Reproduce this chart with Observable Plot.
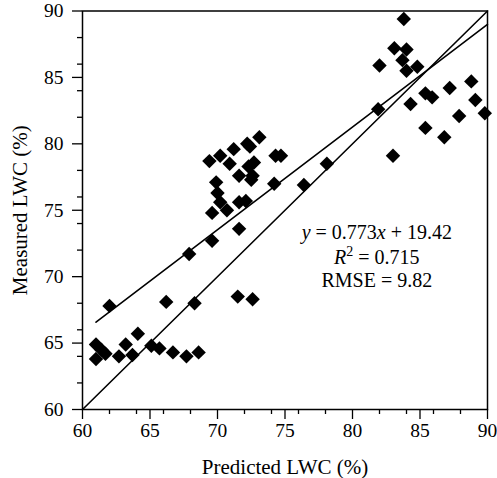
<!DOCTYPE html>
<html>
<head>
<meta charset="utf-8">
<script src="https://cdn.jsdelivr.net/npm/d3@7"></script>
<script src="https://cdn.jsdelivr.net/npm/@observablehq/plot@0.6"></script>
<style>
  html, body { margin: 0; padding: 0; background: #fff; }
</style>
</head>
<body>
<div id="chart"></div>
<script>
// Predicted vs measured LWC (%)
const predicted = [
  61.0, 61.4, 61.0, 61.7, 62.0, 62.7, 63.2, 63.7, 64.1, 65.1,
  65.7, 66.2, 66.7, 67.7, 68.3, 68.6, 67.9, 69.6, 71.6, 71.5,
  72.6, 69.6, 70.7, 70.2, 71.6, 72.1, 70.0, 69.9, 71.6, 72.5,
  72.6, 72.3, 70.9, 72.7, 69.4, 70.2, 71.2, 72.2, 72.4, 73.1,
  74.3, 74.7, 74.2, 76.4, 78.1, 81.9, 82.0, 83.0, 83.1, 83.8,
  84.0, 83.7, 84.0, 84.8, 84.3, 85.4, 85.9, 85.4, 86.8, 87.2,
  87.9, 88.8, 89.1, 89.8
];
const measured = [
  64.9, 64.5, 63.8, 64.2, 67.8, 64.0, 64.9, 64.1, 65.7, 64.8,
  64.6, 68.1, 64.3, 64.0, 68.0, 64.3, 71.7, 72.7, 73.6, 68.5,
  68.3, 74.8, 75.0, 75.6, 75.6, 75.7, 76.3, 77.1, 77.6, 77.3,
  77.6, 78.3, 78.5, 78.6, 78.7, 79.1, 79.6, 80.0, 79.8, 80.5,
  79.1, 79.1, 77.0, 76.9, 78.5, 82.6, 85.9, 79.1, 87.2, 89.4,
  87.1, 86.3, 85.5, 85.8, 83.0, 83.8, 83.5, 81.2, 80.5, 84.2,
  82.1, 84.7, 83.3, 82.3
];

// Fit line coefficients and its x extent
const slope = 0.773;
const intercept = 19.42;
const fitRange = [61, 90];
// 1:1 reference line
const identityRange = [60, 90];

// Axis ticks
const majorTicks = [60, 65, 70, 75, 80, 85, 90];
const minorTicks = [62, 64, 66, 68, 72, 74, 76, 78, 82, 84, 86, 88];

// Annotation text lines and anchor positions (data units)
const annotLines = ["y = 0.773x + 19.42", "R2 = 0.715", "RMSE = 9.82"];
const annotX = [81.8, 81.8, 81.8];
const annotY = [73.3, 71.45, 69.7];

const points = predicted.map((p, i) => ({ x: p, y: measured[i] }));
const fitLine = fitRange.map(x => ({ x, y: slope * x + intercept }));
const idLine = identityRange.map(v => ({ x: v, y: v }));
const annot = annotLines.map((t, i) => ({ t, x: annotX[i], y: annotY[i] }));

const chart = Plot.plot({
  width: 497,
  height: 478,
  marginLeft: 82,
  marginRight: 10,
  marginTop: 10.5,
  marginBottom: 69,
  style: { fontFamily: "Liberation Serif", fontSize: "19px", color: "#000", background: "#fff" },
  x: { domain: [60, 90] },
  y: { domain: [60, 90] },
  marks: [
    Plot.axisX(minorTicks, { tickSize: 5, tickFormat: () => "", label: null, strokeWidth: 1.3 }),
    Plot.axisY(minorTicks, { tickSize: 5, tickFormat: () => "", label: null, strokeWidth: 1.3 }),
    Plot.axisX(majorTicks, { tickSize: 10, tickPadding: 4, fontSize: 19.5, label: "Predicted LWC (%)", labelAnchor: "center", labelOffset: 64, strokeWidth: 1.3 }),
    Plot.axisY(majorTicks, { tickSize: 10, tickPadding: 9, fontSize: 19.5, label: "Measured LWC (%)", labelAnchor: "center", labelOffset: 70, labelArrow: "none", strokeWidth: 1.3 }),
    Plot.line(idLine, { x: "x", y: "y", stroke: "#000", strokeWidth: 1.6 }),
    Plot.line(fitLine, { x: "x", y: "y", stroke: "#000", strokeWidth: 1.6 }),
    Plot.dot(points, { x: "x", y: "y", symbol: "diamond2", r: 6.5, fill: "#000", stroke: "none" }),
    Plot.text(annot, { x: "x", y: "y", text: "t", textAnchor: "middle", fontSize: 20, fill: "#000" }),
    Plot.frame({ stroke: "#000", strokeWidth: 1.5 })
  ]
});

document.getElementById("chart").appendChild(chart);

// Axis label sizes and arrow-free labels
const svg = d3.select(chart);
svg.selectAll("g[aria-label='x-axis label'] text, g[aria-label='y-axis label'] text")
  .attr("font-size", 21)
  .text(function () { return d3.select(this).text().replace(/[↑→←↓]\s*/g, "").trim(); });

// Rich formatting for annotation lines (italic variables, superscript)
svg.selectAll("text").each(function () {
  const el = d3.select(this);
  const s = el.text();
  if (s === annotLines[0]) {
    el.text(null);
    el.append("tspan").attr("font-style", "italic").text("y");
    el.append("tspan").text(" = 0.773");
    el.append("tspan").attr("font-style", "italic").text("x");
    el.append("tspan").text(" + 19.42");
  } else if (s === annotLines[1]) {
    el.text(null);
    el.append("tspan").attr("font-style", "italic").text("R");
    el.append("tspan").attr("font-size", 14).attr("dy", -8).text("2");
    el.append("tspan").attr("dy", 8).text(" = 0.715");
  }
});
</script>
</body>
</html>
